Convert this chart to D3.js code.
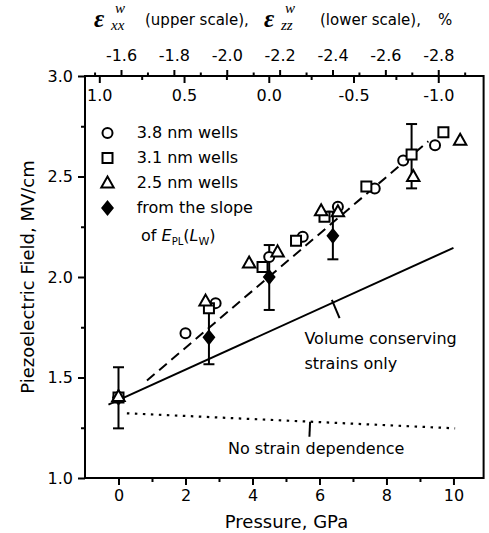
<!DOCTYPE html>
<html><head><meta charset="utf-8">
<script src="https://cdn.jsdelivr.net/npm/d3@7/dist/d3.min.js"></script>
<style>
body{margin:0;background:#fff}
text{font-family:"DejaVu Sans",sans-serif;fill:#000}
</style>
</head><body>
<svg id="c" width="489" height="533"></svg>
<script>
// ---------- data ----------
const wells38 = [[0,1.40],[2.0,1.72],[2.9,1.87],[4.5,2.10],[5.5,2.20],[6.55,2.35],[7.65,2.44],[8.5,2.58],[9.45,2.655]];
const wells31 = [[0,1.40],[2.7,1.845],[4.3,2.05],[5.3,2.18],[6.15,2.30],[7.4,2.45],[8.75,2.61],[9.7,2.72]];
const wells25 = [[0,1.405],[2.6,1.88],[3.9,2.07],[4.75,2.125],[6.05,2.33],[6.55,2.325],[8.8,2.50],[10.2,2.68]];
const slopePts = [[0,1.40],[2.7,1.70],[4.5,2.00],[6.4,2.205]];
// error bars: [x, low, high]
const errorBars = [[0,1.247,1.551],[2.7,1.566,1.834],[4.5,1.836,2.159],[6.4,2.088,2.325],[8.75,2.441,2.761]];
const fitLine = [[0.85,1.485],[9.25,2.675]];
const volumeLine = [[-0.3,1.365],[10.0,2.145]];
const noStrainLine = [[0.25,1.322],[10.05,1.247]];
const pressureTicks = [0,2,4,6,8,10];
const pressureMinor = [1,3,5,7,9];
const fieldTicks = [1.0,1.5,2.0,2.5,3.0];
const fieldMinor = [1.25,1.75,2.25,2.75];
const exxTicks = [-1.6,-1.8,-2.0,-2.2,-2.4,-2.6,-2.8];
const exxMinor = [-1.5,-1.7,-1.9,-2.1,-2.3,-2.5,-2.7,-2.9];
const ezzTicks = [1.0,0.5,0.0,-0.5,-1.0];
const ezzMinor = [0.75,0.25,-0.25,-0.75];
const legendLabels = ["3.8 nm wells","3.1 nm wells","2.5 nm wells","from the slope"];

// ---------- layout ----------
const L=85, R=483.6, T=76, B=478;
const svg = d3.select("#c");
const x = d3.scaleLinear().domain([-1,10.9]).range([L,R]);
const y = d3.scaleLinear().domain([1,3]).range([B,T]);
const exx = d3.scaleLinear().domain([-1.4638,-2.9716]).range([L,R]);
const ezz = d3.scaleLinear().domain([1.0844,-1.2676]).range([L,R]);
const fmt = d3.format(".1f");
const fmtM = v => fmt(v).replace("−","-");

function axisStyle(g){
  g.select(".domain").remove();
  g.selectAll("line").attr("stroke","#000").attr("stroke-width",2);
  g.selectAll("text").style("font-family","DejaVu Sans").style("font-size","16px").attr("fill","#000");
}
// bottom axis
svg.append("g").attr("transform",`translate(0,${B})`)
  .call(d3.axisBottom(x).tickValues(pressureTicks).tickSize(7).tickPadding(5).tickFormat(d3.format("d")))
  .call(axisStyle);
svg.append("g").attr("transform",`translate(0,${B})`)
  .call(d3.axisBottom(x).tickValues(pressureMinor).tickSize(4).tickFormat(""))
  .call(axisStyle);
// left axis
svg.append("g").attr("transform",`translate(${L},0)`)
  .call(d3.axisLeft(y).tickValues(fieldTicks).tickSize(7).tickPadding(5).tickFormat(fmt))
  .call(axisStyle);
svg.append("g").attr("transform",`translate(${L},0)`)
  .call(d3.axisLeft(y).tickValues(fieldMinor).tickSize(4).tickFormat(""))
  .call(axisStyle);
// top axis: exx (outside)
svg.append("g").attr("transform",`translate(0,${T})`)
  .call(d3.axisTop(exx).tickValues(exxTicks).tickSize(6).tickPadding(9).tickFormat(fmtM))
  .call(axisStyle);
svg.append("g").attr("transform",`translate(0,${T})`)
  .call(d3.axisTop(exx).tickValues(exxMinor).tickSize(3.5).tickFormat(""))
  .call(axisStyle);
// top axis: ezz (inside)
svg.append("g").attr("transform",`translate(0,${T})`)
  .call(d3.axisBottom(ezz).tickValues(ezzTicks).tickSize(7).tickPadding(7).tickFormat(fmtM))
  .call(axisStyle);
svg.append("g").attr("transform",`translate(0,${T})`)
  .call(d3.axisBottom(ezz).tickValues(ezzMinor).tickSize(4).tickFormat(""))
  .call(axisStyle);
// frame
svg.append("rect").attr("x",L).attr("y",T).attr("width",R-L).attr("height",B-T)
  .attr("fill","none").attr("stroke","#000").attr("stroke-width",2);

// ---------- lines ----------
const line = d3.line().x(d=>x(d[0])).y(d=>y(d[1]));
svg.append("path").attr("d",line(volumeLine)).attr("fill","none").attr("stroke","#000").attr("stroke-width",2);
svg.append("path").attr("d",line(fitLine)).attr("fill","none").attr("stroke","#000").attr("stroke-width",2).attr("stroke-dasharray","10,6");
svg.append("path").attr("d",line(noStrainLine)).attr("fill","none").attr("stroke","#000").attr("stroke-width",2.2).attr("stroke-dasharray","2.5,5.5");

// annotation leaders
svg.append("line").attr("x1",x(6.37)).attr("y1",y(1.886)).attr("x2",x(6.60)).attr("y2",y(1.795)).attr("stroke","#000").attr("stroke-width",2);
svg.append("line").attr("x1",x(5.72)).attr("y1",y(1.28)).attr("x2",x(5.70)).attr("y2",y(1.205)).attr("stroke","#000").attr("stroke-width",2);
svg.append("text").attr("x",x(5.55)).attr("y",y(1.665)).style("font-size","16px").text("Volume conserving");
svg.append("text").attr("x",x(5.55)).attr("y",y(1.543)).style("font-size","16px").text("strains only");
svg.append("text").attr("x",x(3.27)).attr("y",y(1.12)).style("font-size","16px").text("No strain dependence");

// ---------- markers ----------
const shapes = {
  circle: "M5,0A5,5 0 1,1 -5,0A5,5 0 1,1 5,0Z",
  square: "M-5,-5H5V5H-5Z",
  triangle: "M0,-6.5L6.2,4.5H-6.2Z",
  diamond: "M0,-6.5L5.2,0L0,6.5L-5.2,0Z"
};
function drawSeries(data, shape, filled){
  svg.append("g").selectAll("path").data(data).join("path")
    .attr("transform",d=>`translate(${x(d[0])},${y(d[1])})`)
    .attr("d",shapes[shape])
    .attr("fill",filled?"#000":"#fff")
    .attr("stroke","#000").attr("stroke-width",2).attr("stroke-linejoin","miter");
}
drawSeries(slopePts,"diamond",true);

// ---------- error bars ----------
const eb = svg.append("g").attr("stroke","#000").attr("stroke-width",2);
errorBars.forEach(([xv,lo,hi])=>{
  eb.append("line").attr("x1",x(xv)).attr("x2",x(xv)).attr("y1",y(lo)).attr("y2",y(hi));
  eb.append("line").attr("x1",x(xv)-5.5).attr("x2",x(xv)+5.5).attr("y1",y(lo)).attr("y2",y(lo));
  eb.append("line").attr("x1",x(xv)-5.5).attr("x2",x(xv)+5.5).attr("y1",y(hi)).attr("y2",y(hi));
});

drawSeries(wells38,"circle",false);
drawSeries(wells31,"square",false);
drawSeries(wells25,"triangle",false);

// ---------- legend ----------
const legShapes = ["circle","square","triangle","diamond"];
legShapes.forEach((s,i)=>{
  svg.append("path").attr("transform",`translate(107.5,${133+25*i})`).attr("d",shapes[s])
    .attr("fill",s==="diamond"?"#000":"none").attr("stroke","#000").attr("stroke-width",2);
  svg.append("text").attr("x",136.7).attr("y",137.5+25*i).style("font-size","16px").text(legendLabels[i]);
});
const t5 = svg.append("text").attr("x",141).attr("y",240.5).style("font-size","16px");
t5.append("tspan").text("of ");
t5.append("tspan").style("font-style","italic").text("E");
t5.append("tspan").attr("dy",4).style("font-size","10px").text("PL");
t5.append("tspan").attr("dy",-4).text("(");
t5.append("tspan").style("font-style","italic").text("L");
t5.append("tspan").attr("dy",4).style("font-size","11px").text("W");
t5.append("tspan").attr("dy",-4).text(")");

// ---------- axis titles ----------
svg.append("text").attr("x",286.5).attr("y",528).attr("text-anchor","middle").style("font-size","18px").text("Pressure, GPa");
svg.append("text").attr("transform",`translate(34,${(T+B)/2}) rotate(-90)`).attr("text-anchor","middle").style("font-size","18px").text("Piezoelectric Field, MV/cm");

// top title
const eps = (xx,sup,sub)=>{
  svg.append("text").attr("x",xx).attr("y",27).style("font-family","Liberation Serif").style("font-weight","bold").style("font-style","italic").style("font-size","25px").text("ε");
  svg.append("text").attr("x",xx+21).attr("y",12.5).style("font-family","Liberation Serif").style("font-style","italic").style("font-size","15px").text(sup);
  svg.append("text").attr("x",xx+17).attr("y",29.5).style("font-family","Liberation Serif").style("font-style","italic").style("font-size","15px").text(sub);
};
eps(94,"w","xx");
svg.append("text").attr("x",145).attr("y",24.5).style("font-size","15px").text("(upper scale),");
eps(264,"w","zz");
const lt = svg.append("text").attr("x",320).attr("y",24.5).style("font-size","15px");
lt.append("tspan").text("(lower scale),");
lt.append("tspan").attr("x",438).text("%");
</script>
</body></html>
